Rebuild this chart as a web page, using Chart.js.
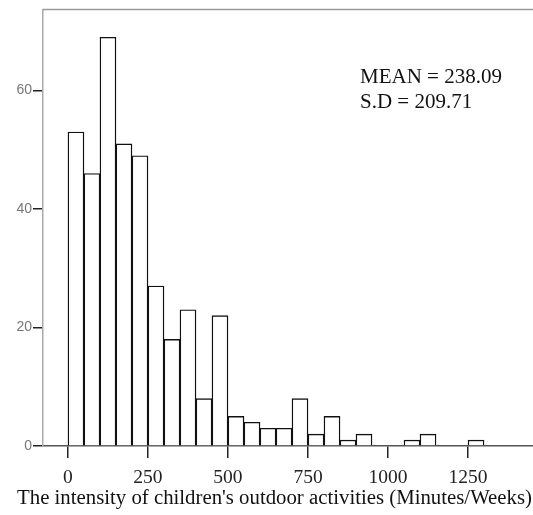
<!DOCTYPE html>
<html>
<head>
<meta charset="utf-8">
<script src="https://cdn.jsdelivr.net/npm/chart.js@4/dist/chart.umd.min.js"></script>
<style>
  html, body { margin: 0; padding: 0; background: #fff; }
  #wrap { width: 533px; height: 515px; position: relative; }
</style>
</head>
<body>
<div id="wrap"><canvas id="c" width="533" height="515"></canvas></div>
<script>
// Histogram bins (lower edge, minutes/week) and counts
const binStarts = [0, 50, 100, 150, 200, 250, 300, 350, 400, 450, 500, 550, 600, 650, 700, 750, 800, 850, 900, 950, 1000, 1050, 1100, 1150, 1200, 1250];
const counts    = [53, 46, 69, 51, 49, 27, 18, 23, 8, 22, 5, 4, 3, 3, 8, 2, 5, 1, 2, 0, 0, 1, 2, 0, 0, 1];
const binWidth = 50;
const xTickValues = [0, 250, 500, 750, 1000, 1250];
const xTickLabels = ['0', '250', '500', '750', '1000', '1250'];
const yTickValues = [0, 20, 40, 60];
const statsLines = ['MEAN = 238.09', 'S.D = 209.71'];
const xTitle = "The intensity of children's outdoor activities (Minutes/Weeks)";

const points = binStarts.map((s, i) => ({ x: s + binWidth / 2, y: counts[i] }));

const framePlugin = {
  id: 'frame',
  afterDraw(chart) {
    const { ctx, chartArea } = chart;
    ctx.save();
    ctx.strokeStyle = '#9a9a9a';
    ctx.lineWidth = 1.5;
    ctx.beginPath();
    ctx.moveTo(chartArea.left, chartArea.top);
    ctx.lineTo(chartArea.right, chartArea.top);
    ctx.stroke();
    ctx.fillStyle = '#111';
    ctx.font = '21px "Liberation Serif", "Times New Roman", serif';
    ctx.textBaseline = 'alphabetic';
    ctx.textAlign = 'left';
    statsLines.forEach((t, i) => ctx.fillText(t, chartArea.left + 317, chartArea.top + 74 + i * 25));
    // x-axis title
    ctx.font = '20.8px "Liberation Serif", "Times New Roman", serif';
    ctx.textAlign = 'center';
    ctx.fillText(xTitle, chartArea.left + 231.5, chartArea.bottom + 58);
    ctx.restore();
  }
};

new Chart(document.getElementById('c'), {
  type: 'bar',
  data: {
    datasets: [{
      data: points,
      backgroundColor: '#ffffff',
      borderColor: '#111111',
      borderWidth: 1.4,
      barPercentage: 1.0,
      categoryPercentage: 1.0
    }]
  },
  options: {
    responsive: false,
    animation: false,
    layout: { padding: { top: 9, right: 0, left: 0, bottom: 0 } },
    plugins: { legend: { display: false }, tooltip: { enabled: false } },
    scales: {
      x: {
        type: 'linear',
        offset: false,
        min: -78,
        max: 1453,
        afterBuildTicks(scale) { scale.ticks = xTickValues.map(v => ({ value: v })); },
        afterFit(scale) { scale.height = 69; },
        grid: { display: true, offset: false, drawOnChartArea: false, drawTicks: true, tickLength: 12, color: '#222', lineWidth: 1.5 },
        border: { display: true, color: '#555', width: 1.5 },
        ticks: {
          color: '#222',
          padding: 8,
          maxRotation: 0,
          autoSkip: false,
          callback(value) { const i = xTickValues.indexOf(value); return i >= 0 ? xTickLabels[i] : ''; },
          font: { family: '"Liberation Serif", "Times New Roman", serif', size: 19.5 }
        },
        title: { display: false }
      },
      y: {
        min: 0,
        max: 73.7,
        afterBuildTicks(scale) { scale.ticks = yTickValues.map(v => ({ value: v })); },
        afterFit(scale) { scale.width = 43; },
        grid: { display: true, drawOnChartArea: false, drawTicks: true, tickLength: 10, color: '#222', lineWidth: 1.5 },
        border: { display: true, color: '#aaaaaa', width: 1.5 },
        ticks: {
          color: '#777',
          padding: 1,
          font: { family: '"Liberation Sans", Arial, sans-serif', size: 14 }
        }
      }
    }
  },
  plugins: [framePlugin]
});
</script>
</body>
</html>
